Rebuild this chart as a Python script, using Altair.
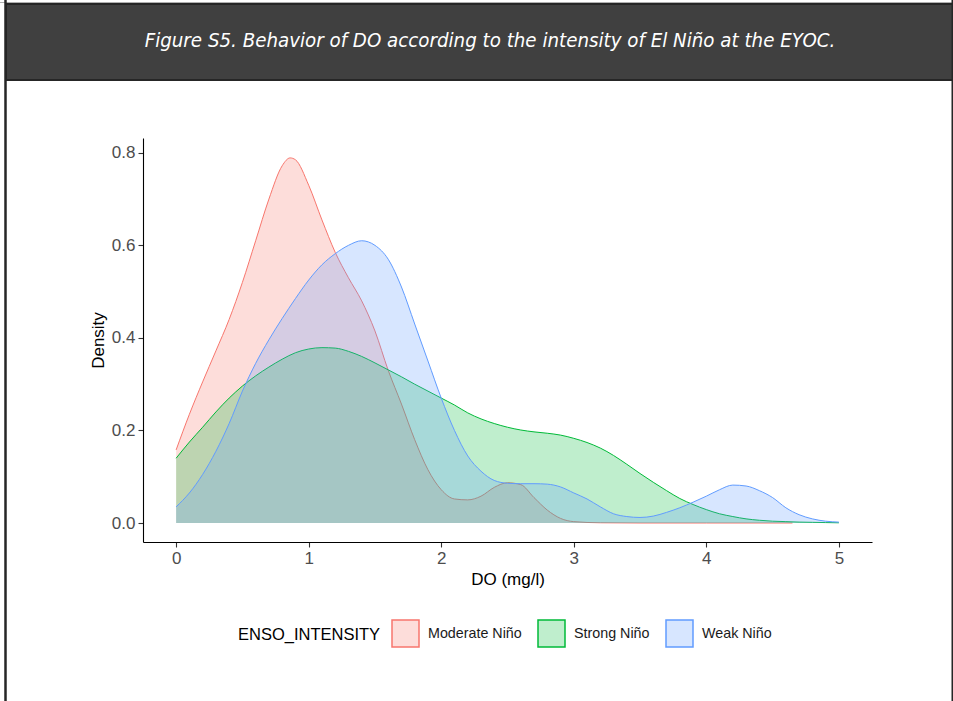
import altair as alt
import pandas as pd

# Kernel density estimates of dissolved oxygen for each El Niño intensity class
groups = ["Moderate Niño", "Strong Niño", "Weak Niño"]
line_colors = ["#F8766D", "#00BA38", "#619CFF"]
fill_colors = ["rgba(248,118,109,0.25)", "rgba(0,186,56,0.25)", "rgba(97,156,255,0.25)"]

moderate_do = [0.0, 0.1, 0.2, 0.3, 0.4, 0.5, 0.6, 0.7, 0.8, 0.86, 0.9, 1.0, 1.1, 1.2, 1.3,
               1.4, 1.5, 1.6, 1.7, 1.8, 1.9, 2.0, 2.1, 2.2, 2.3, 2.4, 2.5, 2.6, 2.7, 2.8,
               2.9, 3.0, 3.2, 3.5, 4.0, 4.65]
moderate_density = [0.158, 0.235, 0.305, 0.372, 0.44, 0.52, 0.61, 0.70, 0.772, 0.789, 0.785,
                    0.73, 0.655, 0.585, 0.53, 0.48, 0.415, 0.33, 0.257, 0.18, 0.115, 0.072,
                    0.052, 0.05, 0.058, 0.077, 0.087, 0.083, 0.055, 0.028, 0.01, 0.003,
                    0.0005, 0.0, 0.0, 0.0]

strong_do = [0.0, 0.1, 0.2, 0.3, 0.4, 0.5, 0.6, 0.7, 0.8, 0.9, 1.0, 1.1, 1.2, 1.3, 1.4, 1.5,
             1.6, 1.7, 1.8, 1.9, 2.0, 2.1, 2.2, 2.3, 2.4, 2.5, 2.6, 2.7, 2.8, 2.9, 3.0, 3.1,
             3.2, 3.3, 3.4, 3.5, 3.6, 3.7, 3.8, 3.9, 4.0, 4.1, 4.2, 4.3, 4.4, 4.5, 4.6, 4.7,
             4.8, 4.9, 5.0]
strong_density = [0.14, 0.175, 0.207, 0.24, 0.27, 0.296, 0.318, 0.337, 0.354, 0.368, 0.376,
                  0.379, 0.378, 0.371, 0.36, 0.346, 0.331, 0.316, 0.30, 0.285, 0.27, 0.255,
                  0.238, 0.225, 0.215, 0.207, 0.201, 0.197, 0.194, 0.19, 0.183, 0.174,
                  0.162, 0.146, 0.127, 0.107, 0.088, 0.07, 0.053, 0.04, 0.029, 0.02, 0.014,
                  0.009, 0.006, 0.004, 0.003, 0.002, 0.0015, 0.001, 0.0005]

weak_do = [0.0, 0.1, 0.2, 0.3, 0.4, 0.5, 0.6, 0.7, 0.8, 0.9, 1.0, 1.1, 1.2, 1.3, 1.4, 1.5,
           1.6, 1.7, 1.8, 1.9, 2.0, 2.1, 2.2, 2.3, 2.4, 2.5, 2.6, 2.7, 2.8, 2.9, 3.0, 3.1,
           3.2, 3.3, 3.4, 3.5, 3.6, 3.7, 3.8, 3.9, 4.0, 4.1, 4.2, 4.3, 4.4, 4.5, 4.6, 4.7,
           4.8, 4.9, 5.0]
weak_density = [0.035, 0.065, 0.105, 0.155, 0.215, 0.285, 0.345, 0.396, 0.442, 0.485, 0.525,
                0.558, 0.582, 0.60, 0.61, 0.60, 0.57, 0.51, 0.43, 0.35, 0.27, 0.20, 0.145,
                0.112, 0.092, 0.086, 0.085, 0.085, 0.084, 0.078, 0.065, 0.052, 0.035, 0.02,
                0.014, 0.012, 0.015, 0.023, 0.033, 0.045, 0.058, 0.072, 0.082, 0.08, 0.07,
                0.055, 0.033, 0.018, 0.009, 0.004, 0.002]

x_ticks = [0, 1, 2, 3, 4, 5]
y_ticks = [0.0, 0.2, 0.4, 0.6, 0.8]

caption = "Figure S5. Behavior of DO according to the intensity of El Niño at the EYOC."

frames = []
for name, xs, ys in [(groups[0], moderate_do, moderate_density),
                     (groups[1], strong_do, strong_density),
                     (groups[2], weak_do, weak_density)]:
    frames.append(pd.DataFrame({"DO": xs, "density": ys, "ENSO_INTENSITY": name}))
df = pd.concat(frames, ignore_index=True)

FONT = "Liberation Sans, Arial, sans-serif"

x_enc = alt.X(
    "DO:Q",
    scale=alt.Scale(domain=[-0.25, 5.25], nice=False, zero=False),
    axis=alt.Axis(values=x_ticks, format="d", title="DO (mg/l)", titlePadding=5),
)
y_enc = alt.Y(
    "density:Q",
    scale=alt.Scale(domain=[-0.041, 0.832], nice=False, zero=False),
    axis=alt.Axis(values=y_ticks, format=".1f", title="Density", titlePadding=4),
)

legend = alt.Legend(
    orient="none",
    legendX=95,
    legendY=481,
    direction="horizontal",
    titleOrient="left",
    symbolType="square",
    symbolSize=729,
    symbolStrokeWidth=1.5,
    labelFontSize=14.3,
    labelFont=FONT,
    labelColor="#1a1a1a",
    titleFontSize=16.5,
    titleFont=FONT,
    titleFontWeight="normal",
    titleColor="#000000",
    titlePadding=10,
    labelOffset=8,
    columnPadding=13,
)

fill_enc = alt.Fill(
    "ENSO_INTENSITY:N",
    scale=alt.Scale(domain=groups, range=fill_colors),
    legend=legend,
)
stroke_enc = alt.Stroke(
    "ENSO_INTENSITY:N",
    scale=alt.Scale(domain=groups, range=line_colors),
    legend=legend,
)

base = alt.Chart(df)

density_layers = []
for g in groups:
    area = base.mark_area(interpolate="monotone").encode(
        x=x_enc, y=y_enc, y2=alt.datum(0), fill=fill_enc
    ).transform_filter(alt.datum.ENSO_INTENSITY == g)
    line = base.mark_line(interpolate="monotone", strokeWidth=1).encode(
        x=x_enc, y=y_enc, stroke=stroke_enc
    ).transform_filter(alt.datum.ENSO_INTENSITY == g)
    density_layers += [area, line]

one = alt.Data(values=[{}])

# Dark caption banner and page frame, positioned in pixels around the plot area
banner = alt.Chart(one).mark_rect(
    fill="#404040", stroke="#262626", strokeWidth=2
).encode(
    x=alt.value(-137), x2=alt.value(810), y=alt.value(-134), y2=alt.value(-58)
)
top_line = alt.Chart(one).mark_rule(color="#b0b0b0", strokeWidth=1).encode(
    x=alt.value(-143), x2=alt.value(810), y=alt.value(-135.5)
)
left_frame = alt.Chart(one).mark_rule(color="#262626", strokeWidth=2.5).encode(
    x=alt.value(-137.5), y=alt.value(-138), y2=alt.value(563)
)
right_frame = alt.Chart(one).mark_rule(color="#262626", strokeWidth=2).encode(
    x=alt.value(809.5), y=alt.value(-138), y2=alt.value(563)
)
caption_text = alt.Chart(one).mark_text(
    font="Liberation Sans Narrow, DejaVu Sans Condensed, Liberation Sans",
    fontStyle="italic",
    fontSize=20.3,
    color="#ffffff",
    align="center",
    baseline="middle",
).encode(x=alt.value(347), y=alt.value(-97), text=alt.value(caption))

chart = alt.layer(
    banner, top_line, left_frame, right_frame, caption_text, *density_layers
).properties(
    width=729,
    height=404,
    autosize=alt.AutoSizeParams(type="none"),
    padding={"left": 143, "top": 138, "right": 81, "bottom": 159},
    background="white",
).configure_view(
    stroke=None
).configure_axis(
    grid=False,
    domainColor="#000000",
    domainWidth=1.1,
    tickColor="#333333",
    tickSize=5,
    tickWidth=1.1,
    labelFont=FONT,
    labelFontSize=17,
    labelColor="#4d4d4d",
    labelPadding=3,
    titleFont=FONT,
    titleFontSize=17,
    titleFontWeight="normal",
    titleColor="#000000",
)

chart.save("out.html", embed_options={"renderer": "svg", "actions": False})
